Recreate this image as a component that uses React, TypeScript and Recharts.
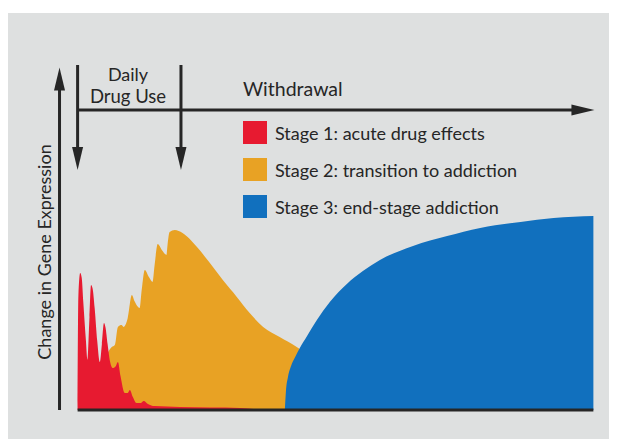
import { ComposedChart, Area, XAxis, YAxis, ReferenceLine, Legend } from 'recharts';

// stage labels and colours
const stageNames = [
  'Stage 1: acute drug effects',
  'Stage 2: transition to addiction',
  'Stage 3: end-stage addiction',
];
const stageColors = ['#e71a30', '#e8a224', '#1170be'];

// x = time (0 = first dose), y = change in gene expression
const stage1Points: [number, number][] = [
  [0, 0], [0.15, 38], [0.5, 45.7], [0.8, 44], [1.1, 36], [1.6, 23.3], [1.9, 16.7],
  [2.3, 31], [2.6, 41.7], [2.9, 40.5], [3.3, 34], [3.8, 23], [4.3, 16], [4.7, 22],
  [5.1, 29], [5.4, 27.5], [5.8, 22], [6.3, 16], [6.8, 14], [7.4, 14.7], [7.8, 16],
  [8.3, 11.3], [9.1, 5.7], [9.7, 5.7], [10.1, 6.7], [10.7, 4.3], [11.4, 2.3],
  [12.2, 2.3], [12.8, 3], [13.6, 2], [14.9, 1.3], [19.8, 1], [31.4, 0.7], [35.7, 0],
];

const stage2Points: [number, number][] = [
  [3.9, 0], [5.4, 16.7], [6.6, 21], [7.2, 21.7], [7.8, 27.7], [8.5, 28.3],
  [8.9, 27.7], [9.7, 30.7], [10.5, 38.3], [11.0, 36.3], [12.0, 34], [12.4, 40],
  [13.0, 46.7], [13.8, 44.3], [14.5, 42.7], [14.9, 48.3], [15.5, 55.3], [16.3, 53.3],
  [17.2, 51.7], [17.4, 55], [17.8, 59.3], [18.8, 60], [20.3, 59], [21.7, 57],
  [23.1, 54.3], [25.6, 49], [28.1, 43.3], [30.8, 37.7], [33.3, 32.3], [35.9, 27.7],
  [39.1, 24.3], [42.4, 21], [45.9, 16.7], [49.8, 10], [52.7, 0],
];

const stage3Points: [number, number][] = [
  [40.1, 0], [40.3, 6], [40.7, 11], [41.3, 14.7], [42.1, 17.7], [43.0, 20.7],
  [44.4, 24.7], [46.3, 30], [48.8, 36], [52.1, 42], [55.2, 46.3], [58.5, 50],
  [64.9, 54.7], [71.5, 58], [77.9, 60.7], [85.7, 62.7], [92.1, 64], [99.8, 64.7],
];

const toRows = (pts: [number, number][]) => pts.map(([x, v]) => ({ x, v }));

const FONT = 'Lato, "Open Sans", sans-serif';
const INK = '#262626';

function Arrow(props: any) {
  const { x1, y1, x2, y2 } = props;
  const dx = x2 - x1;
  const dy = y2 - y1;
  const len = Math.hypot(dx, dy) || 1;
  const ux = dx / len;
  const uy = dy / len;
  const head = 23;
  const half = 5.5;
  const bx = x2 - ux * head;
  const by = y2 - uy * head;
  return (
    <g>
      <line x1={x1} y1={y1} x2={bx + ux * 3} y2={by + uy * 3} stroke={INK} strokeWidth={3} />
      <polygon
        points={`${x2},${y2} ${bx - uy * half},${by + ux * half} ${bx + uy * half},${by - ux * half}`}
        fill={INK}
      />
    </g>
  );
}

function StageLegend() {
  return (
    <svg width={320} height={100}>
      {stageNames.map((name, i) => (
        <g key={name} transform={`translate(0, ${i * 37})`}>
          <rect x={0} y={0} width={24} height={23} fill={stageColors[i]} />
          <text x={32} y={19} fontFamily={FONT} fontSize={18} fill={INK}>
            {name}
          </text>
        </g>
      ))}
    </svg>
  );
}

export default function App() {
  return (
    <div style={{ paddingTop: 5 }}>
      <div style={{ position: 'relative', width: 609, height: 426, background: '#dee0e0' }}>
        <ComposedChart
          width={609}
          height={426}
          margin={{ top: 52, right: 20, bottom: 29, left: 51 }}
        >
          <XAxis type="number" dataKey="x" domain={[-3.6, 100.5]} allowDataOverflow hide />
          <YAxis type="number" domain={[0, 115]} allowDataOverflow hide />
          <Area
            data={toRows(stage2Points)}
            dataKey="v"
            name={stageNames[1]}
            type="monotone"
            fill={stageColors[1]}
            fillOpacity={1}
            stroke="none"
            isAnimationActive={false}
          />
          <Area
            data={toRows(stage1Points)}
            dataKey="v"
            name={stageNames[0]}
            type="monotone"
            fill={stageColors[0]}
            fillOpacity={1}
            stroke="none"
            isAnimationActive={false}
          />
          <Area
            data={toRows(stage3Points)}
            dataKey="v"
            name={stageNames[2]}
            type="monotone"
            fill={stageColors[2]}
            fillOpacity={1}
            stroke="none"
            isAnimationActive={false}
          />
          <ReferenceLine segment={[{ x: 0, y: 0 }, { x: 99.8, y: 0 }]} stroke={INK} strokeWidth={3} />
          <ReferenceLine segment={[{ x: -3.5, y: 0 }, { x: -3.5, y: 114.2 }]} shape={Arrow} />
          <ReferenceLine segment={[{ x: 0, y: 100 }, { x: 100, y: 100 }]} shape={Arrow} />
          <ReferenceLine segment={[{ x: 0, y: 115 }, { x: 0, y: 80 }]} shape={Arrow} />
          <ReferenceLine segment={[{ x: 20, y: 115 }, { x: 20, y: 80 }]} shape={Arrow} />
          <Legend
            layout="vertical"
            align="center"
            verticalAlign="middle"
            content={() => <StageLegend />}
            wrapperStyle={{ top: 108, left: 235, width: 320, height: 100 }}
          />
        </ComposedChart>
        <svg
          width={609}
          height={426}
          style={{ position: 'absolute', top: 0, left: 0, pointerEvents: 'none' }}
        >
          <g fontFamily={FONT} fill={INK}>
            <text x={120} y={68} textAnchor="middle" fontSize={18}>Daily</text>
            <text x={120} y={90} textAnchor="middle" fontSize={18.5}>Drug Use</text>
            <text x={235} y={83} fontSize={19.5}>Withdrawal</text>
            <text x={43} y={239} textAnchor="middle" fontSize={18} transform="rotate(-90 43 239)">
              Change in Gene Expression
            </text>
          </g>
        </svg>
      </div>
    </div>
  );
}
